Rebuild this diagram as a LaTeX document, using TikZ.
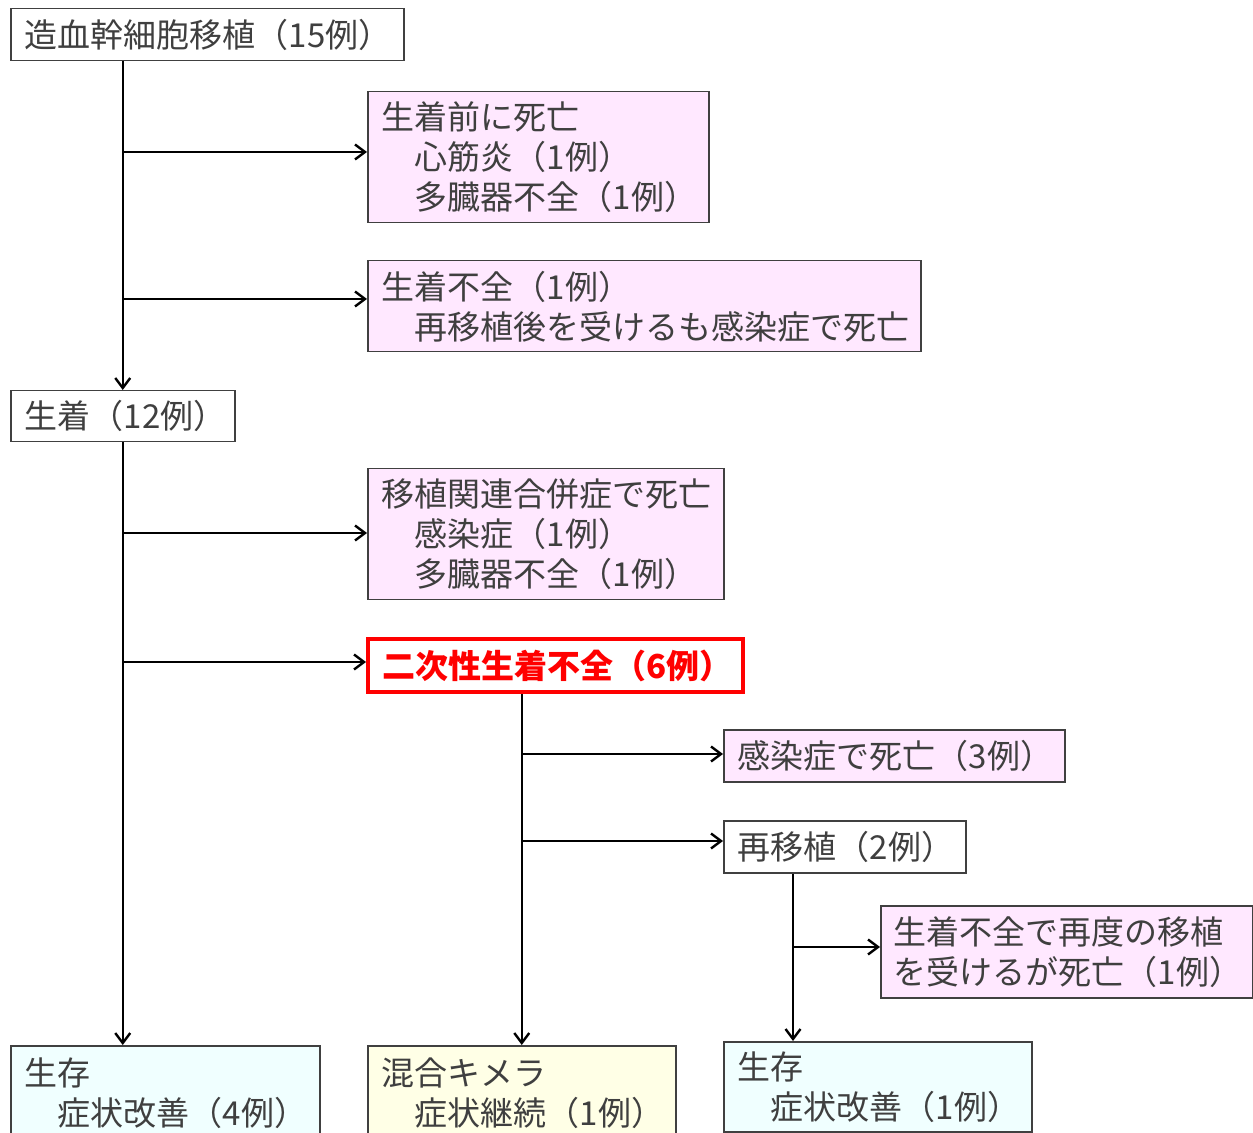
\documentclass[tikz,border=0pt]{standalone}
\usepackage{fontspec}
\setmainfont{Noto Sans CJK JP}
\usetikzlibrary{arrows.meta,calc}
\definecolor{txt}{HTML}{3F3F3F}
\definecolor{edge}{HTML}{404040}
\definecolor{pinkfill}{HTML}{FFE8FF}
\definecolor{cyanfill}{HTML}{F0FFFF}
\definecolor{yelfill}{HTML}{FFFFE6}
\definecolor{redc}{HTML}{FF0000}
\begin{document}
\begin{tikzpicture}[x=0.5pt,y=-0.5pt,
  every node/.style={font=\fontsize{16.5pt}{20pt}\selectfont},
  bx/.style={draw=edge,line width=0.75pt,anchor=north west,text=txt,
    align=left,inner xsep=7pt,inner ysep=2pt},
  pinkbx/.style={bx,fill=pinkfill},
  cyanbx/.style={bx,fill=cyanfill},
  yelbx/.style={bx,fill=yelfill},
  redbx/.style={bx,draw=redc,line width=2pt,text=redc,font=\fontsize{16.5pt}{20pt}\selectfont\bfseries},
  arr/.style={draw=black,line width=1.2pt,-{Straight Barb[length=5pt,width=7.5pt]}}]
\useasboundingbox (0,0) rectangle (1253,1133);
\clip (0,0) rectangle (1253,1133);
% nodes
\node[bx,fill=white,minimum width=196.5pt,minimum height=26pt,text width=182.5pt] (A) at (10,8) {造血幹細胞移植（15例）};
\node[pinkbx,minimum width=170.5pt,minimum height=65.5pt,text width=156.5pt] (P1) at (367,91) {生着前に死亡\\\hspace*{1em}心筋炎（1例）\\\hspace*{1em}多臓器不全（1例）};
\node[pinkbx,minimum width=276.5pt,minimum height=45.5pt,text width=262.5pt] (P2) at (367,260) {生着不全（1例）\\\hspace*{1em}再移植後を受けるも感染症で死亡};
\node[bx,fill=white,minimum width=112pt,minimum height=25.5pt,text width=98pt] (B) at (10,390) {生着（12例）};
\node[pinkbx,minimum width=178pt,minimum height=65.5pt,text width=164pt] (P3) at (367,468) {移植関連合併症で死亡\\\hspace*{1em}感染症（1例）\\\hspace*{1em}多臓器不全（1例）};
\node[redbx,fill=white,minimum width=187.5pt,minimum height=26.5pt,text width=173.5pt] (R) at (366,637) {二次性生着不全（6例）};
\node[pinkbx,minimum width=170.5pt,minimum height=26pt,text width=156.5pt] (P4) at (723,729) {感染症で死亡（3例）};
\node[bx,fill=white,minimum width=121pt,minimum height=26pt,text width=107pt] (C) at (723,820) {再移植（2例）};
\node[pinkbx,minimum width=186pt,minimum height=46pt,text width=173pt,inner xsep=6.5pt] (P5) at (880,905) {生着不全で再度の移植\\を受けるが死亡（1例）};
\node[cyanbx,minimum width=154.5pt,minimum height=47.5pt,text width=140.5pt] (L1) at (10,1045) {生存\\\hspace*{1em}症状改善（4例）};
\node[yelbx,minimum width=154pt,minimum height=47.5pt,text width=140pt] (L2) at (367,1045) {混合キメラ\\\hspace*{1em}症状継続（1例）};
\node[cyanbx,minimum width=154pt,minimum height=45pt,text width=140pt] (L3) at (723,1041) {生存\\\hspace*{1em}症状改善（1例）};
% connector end points on box edges
\coordinate (e1) at ($(P1.north west)+(0,61)$);
\coordinate (e2) at ($(P2.north west)+(0,39)$);
\coordinate (e3) at ($(P3.north west)+(0,65)$);
\coordinate (e4) at ($(R.north west)+(0,25)$);
\coordinate (e5) at ($(P4.north west)+(0,25)$);
\coordinate (e6) at ($(C.north west)+(0,21)$);
\coordinate (e7) at ($(P5.north west)+(0,42)$);
\coordinate (c3) at ($(C.south west)+(70,0)$);
% connectors
\draw[arr] (B.north |- A.south) -- (B.north);
\draw[arr] (B.north |- e1) -- (e1);
\draw[arr] (B.north |- e2) -- (e2);
\draw[arr] (B.south) -- (B.south |- L1.north);
\draw[arr] (B.south |- e3) -- (e3);
\draw[arr] (B.south |- e4) -- (e4);
\draw[arr] (L2.north |- R.south) -- (L2.north);
\draw[arr] (L2.north |- e5) -- (e5);
\draw[arr] (L2.north |- e6) -- (e6);
\draw[arr] (c3) -- (c3 |- L3.north);
\draw[arr] (c3 |- e7) -- (e7);
\end{tikzpicture}
\end{document}
